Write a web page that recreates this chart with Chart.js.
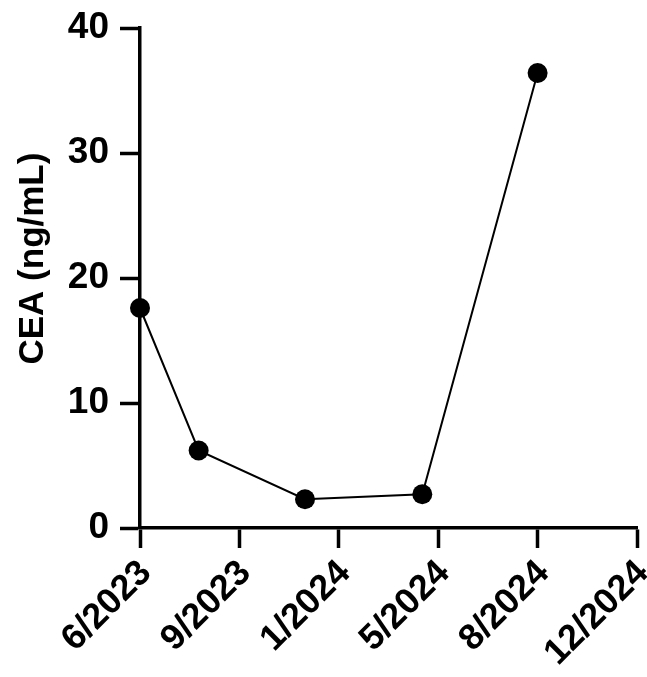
<!DOCTYPE html>
<html>
<head>
<meta charset="utf-8">
<script src="https://cdn.jsdelivr.net/npm/chart.js@4/dist/chart.umd.min.js"></script>
<style>
  html, body { margin: 0; padding: 0; background: #fff; }
  #wrap { width: 647px; height: 677px; position: relative; }
</style>
</head>
<body>
<div id="wrap"><canvas id="ceaChart"></canvas></div>
<script>
// tick labels on the x axis (evenly spaced)
const dateLabels = ["6/2023", "9/2023", "1/2024", "5/2024", "8/2024", "12/2024"];
// where each measurement falls between those ticks
const samplePos = [0, 0.59, 1.66, 2.84, 4.0];
// CEA values (ng/mL)
const ceaValues = [17.6, 6.2, 2.3, 2.7, 36.4];
const yTicks = [0, 10, 20, 30, 40];

const font = "'Liberation Sans', Arial, Helvetica, sans-serif";
const axisW = 3.5;

const points = samplePos.map((x, i) => ({ x: x, y: ceaValues[i] }));

const ctx = document.getElementById("ceaChart").getContext("2d");

new Chart(ctx, {
  type: "line",
  data: {
    datasets: [{
      data: points,
      borderColor: "#000",
      borderWidth: 2,
      backgroundColor: "#000",
      pointBackgroundColor: "#000",
      pointBorderColor: "#000",
      pointRadius: 10,
      pointBorderWidth: 0,
      tension: 0,
      clip: false
    }]
  },
  options: {
    responsive: true,
    maintainAspectRatio: false,
    animation: false,
    layout: {
      padding: { top: 28, right: 7, left: 0, bottom: 0 }
    },
    plugins: {
      legend: { display: false },
      tooltip: { enabled: false }
    },
    scales: {
      x: {
        type: "linear",
        min: 0,
        max: dateLabels.length - 1,
        border: { color: "#000", width: axisW },
        grid: {
          drawOnChartArea: false,
          drawTicks: true,
          tickLength: 20,
          tickWidth: axisW,
          tickColor: "#000"
        },
        ticks: {
          stepSize: 1,
          autoSkip: false,
          minRotation: 45,
          maxRotation: 45,
          padding: 4,
          labelOffset: 6,
          color: "#000",
          font: { family: font, size: 36, weight: "bold" },
          callback: (v) => dateLabels[v] ?? ""
        },
        afterFit: (scale) => {
          scale.height = 149;
          scale.paddingLeft = 0;
          scale.paddingRight = 0;
        }
      },
      y: {
        min: 0,
        max: 40,
        border: { color: "#000", width: axisW },
        grid: {
          drawOnChartArea: false,
          drawTicks: true,
          tickLength: 20,
          tickWidth: axisW,
          tickColor: "#000"
        },
        afterBuildTicks: (scale) => {
          scale.ticks = yTicks.map(v => ({ value: v }));
        },
        ticks: {
          padding: 11,
          color: "#000",
          font: { family: font, size: 37, weight: "bold" }
        },
        title: {
          display: true,
          // leading spaces nudge the title up a bit, like the original
          text: "    CEA (ng/mL)",
          color: "#000",
          padding: { top: 12, bottom: 0 },
          font: { family: font, size: 35, weight: "bold" }
        },
        afterFit: (scale) => {
          scale.width = 140;
          scale.paddingTop = 0;
          scale.paddingBottom = 0;
        }
      }
    }
  }
});
</script>
</body>
</html>
